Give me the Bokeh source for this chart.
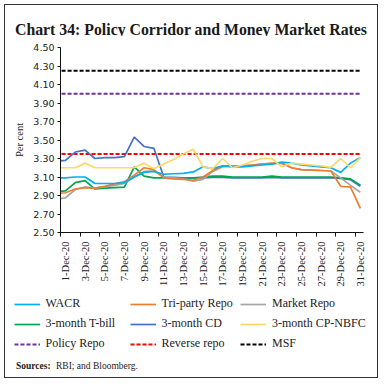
import math
from bokeh.plotting import figure
from bokeh.layouts import column
from bokeh.models import (FixedTicker, PrintfTickFormatter, Legend, LegendItem,
                          Label, Range1d)
from bokeh.embed import file_html
from bokeh.resources import INLINE

# x = day number (0 = 30-Nov-20, 1..31 = Dec 2020)
days = list(range(0, 32))
tick_days = [1, 3, 5, 7, 9, 11, 13, 15, 17, 19, 21, 23, 25, 27, 29, 31]
tick_labels = ["1-Dec-20", "3-Dec-20", "5-Dec-20", "7-Dec-20", "9-Dec-20", "11-Dec-20",
               "13-Dec-20", "15-Dec-20", "17-Dec-20", "19-Dec-20", "21-Dec-20", "23-Dec-20",
               "25-Dec-20", "27-Dec-20", "29-Dec-20", "31-Dec-20"]
y_ticks = [2.50, 2.70, 2.90, 3.10, 3.30, 3.50, 3.70, 3.90, 4.10, 4.30, 4.50]

wacr = [3.09, 3.09, 3.10, 3.10, 3.03, 3.03, 3.03, 3.04, 3.10, 3.15, 3.16, 3.13, 3.135, 3.14, 3.155, 3.21,
        3.19, 3.22, 3.21, 3.21, 3.22, 3.23, 3.24, 3.26, 3.25, 3.23, 3.22, 3.21, 3.20, 3.15, 3.25, 3.31]
tri_party = [2.92, 2.93, 2.97, 2.985, 2.98, 3.00, 3.025, 3.05, 3.12, 3.20, 3.18, 3.09, 3.08, 3.075, 3.065, 3.10,
             3.17, 3.22, 3.22, 3.22, 3.23, 3.24, 3.25, 3.25, 3.20, 3.18, 3.175, 3.17, 3.165, 3.00, 2.99, 2.76]
market_repo = [2.86, 2.875, 2.965, 2.99, 2.98, 2.995, 3.01, 3.03, 3.10, 3.16, 3.165, 3.10, 3.09, 3.08, 3.055, 3.075,
               3.16, 3.21, 3.22, 3.22, 3.23, 3.24, 3.245, 3.25, 3.20, 3.18, 3.175, 3.17, 3.165, 3.09, 3.01, 2.935]
tbill = [2.94, 2.95, 3.04, 3.06, 2.97, 2.98, 2.985, 2.99, 3.21, 3.11, 3.09, 3.09, 3.09, 3.09, 3.09, 3.10,
         3.11, 3.11, 3.10, 3.10, 3.10, 3.10, 3.11, 3.10, 3.10, 3.10, 3.10, 3.10, 3.10, 3.09, 3.08, 3.01]
cd = [3.27, 3.28, 3.37, 3.39, 3.30, 3.31, 3.31, 3.32, 3.53, 3.43, 3.41, 3.10, 3.095, 3.09, 3.09, 3.09,
      3.095, 3.095, 3.09, 3.09, 3.09, 3.09, 3.095, 3.09, 3.09, 3.09, 3.09, 3.09, 3.09, 3.085, 3.07, 3.00]
cp_nbfc = [3.20, 3.20, 3.20, 3.25, 3.20, 3.20, 3.20, 3.20, 3.20, 3.25, 3.19, 3.24, 3.29, 3.35, 3.40, 3.21,
           3.19, 3.30, 3.20, 3.23, 3.27, 3.30, 3.30, 3.21, 3.25, 3.24, 3.23, 3.22, 3.205, 3.30, 3.20, 3.31]
policy_repo = 4.00
reverse_repo = 3.35
msf = 4.25

SERIF = "Liberation Serif"
SANS = "DejaVu Sans"
TXT = "#222222"
W = 372
C_WACR, C_TP, C_MR, C_TB, C_CD, C_CP = "#00B0F0", "#ED7D31", "#A5A5A5", "#00A651", "#4472C4", "#FFD966"
C_POL, C_REV, C_MSF = "#7030A0", "#FF0000", "#000000"
DASH = "4 2"
LW = 1.7


def blank(h):
    f = figure(width=W, height=h, output_backend="svg", toolbar_location=None,
               x_range=Range1d(0, W), y_range=Range1d(h, 0),
               x_axis_location=None, y_axis_location=None, min_border=0,
               min_border_left=0, min_border_right=0, min_border_top=0, min_border_bottom=0)
    f.outline_line_color = None
    f.background_fill_color = "white"
    f.border_fill_color = "white"
    for g in f.grid:
        g.visible = False
    return f


# ---- title strip ----
top = blank(31)
top.add_layout(Label(x=9.5, y=23.5, text="Chart 34: Policy Corridor and Money Market Rates",
                     text_font=SERIF, text_font_style="bold", text_font_size="15.8px",
                     text_color="#1a1a1a", text_baseline="alphabetic", text_align="left"))

# ---- chart ----
p = figure(width=W, height=253, output_backend="svg", toolbar_location=None,
           x_range=Range1d(0.5, 31.32), y_range=Range1d(2.5, 4.5),
           min_border_left=55, min_border_right=W - 55 - 303, min_border_top=11, min_border_bottom=56)
p.outline_line_color = None
p.xgrid.grid_line_color = None
p.ygrid.grid_line_color = None
p.background_fill_color = "white"
p.border_fill_color = "white"

p.yaxis.ticker = FixedTicker(ticks=y_ticks, minor_ticks=[])
p.yaxis.formatter = PrintfTickFormatter(format="%.2f")
p.yaxis.major_label_text_font = SANS
p.yaxis.major_label_text_font_size = "9.5px"
p.yaxis.major_label_text_color = TXT
p.yaxis.major_tick_out = 3
p.yaxis.major_tick_in = 0
p.yaxis.major_label_standoff = 3
p.yaxis.axis_line_color = "#111111"
p.yaxis.major_tick_line_color = "#111111"
p.yaxis.axis_label = "Per cent"
p.yaxis.axis_label_text_font = SERIF
p.yaxis.axis_label_text_font_size = "10.5px"
p.yaxis.axis_label_text_font_style = "normal"
p.yaxis.axis_label_text_color = TXT
p.yaxis.axis_label_standoff = 5

p.xaxis.ticker = FixedTicker(ticks=tick_days, minor_ticks=[d - 0.5 for d in tick_days])
p.xaxis.major_label_overrides = {d: lab for d, lab in zip(tick_days, tick_labels)}
p.xaxis.major_label_orientation = math.pi / 2
p.xaxis.major_label_text_font = SERIF
p.xaxis.major_label_text_font_size = "10.5px"
p.xaxis.major_label_text_color = TXT
p.xaxis.major_tick_out = 0
p.xaxis.major_tick_in = 0
p.xaxis.minor_tick_out = 4
p.xaxis.minor_tick_in = 0
p.xaxis.minor_tick_line_color = "#111111"
p.xaxis.major_label_standoff = 5
p.xaxis.axis_line_color = "#111111"

p.line(days, [msf] * len(days), line_color=C_MSF, line_width=2, line_dash=DASH)
p.line(days, [policy_repo] * len(days), line_color=C_POL, line_width=2, line_dash=DASH)
p.line(days, [reverse_repo] * len(days), line_color=C_REV, line_width=2, line_dash=DASH)
p.line(days, cd, line_color=C_CD, line_width=LW)
p.line(days, tbill, line_color=C_TB, line_width=LW)
p.line(days, market_repo, line_color=C_MR, line_width=LW)
p.line(days, tri_party, line_color=C_TP, line_width=LW)
p.line(days, wacr, line_color=C_WACR, line_width=LW)
p.line(days, cp_nbfc, line_color=C_CP, line_width=LW)

# ---- legend + sources strip ----
bot = blank(88)


def swatch(ys, color, dashed=False):
    # hidden copy of the series, used only for its legend sample
    return bot.line(days, ys, line_color=color, line_width=2 if dashed else LW,
                    line_dash=DASH if dashed else "solid", visible=False)


def make_legend(items, x):
    lg = Legend(items=[LegendItem(label=t, renderers=[r]) for t, r in items],
                location=(x, 23.5), orientation="vertical",
                label_text_font=SERIF, label_text_font_size="12px", label_text_color=TXT,
                glyph_width=26, glyph_height=20, label_height=20, spacing=0,
                padding=0, margin=0, label_standoff=6,
                border_line_color=None, background_fill_alpha=0,
                inactive_fill_alpha=0)
    bot.add_layout(lg)


make_legend([("WACR", swatch(wacr, C_WACR)), ("3-month T-bill", swatch(tbill, C_TB)),
             ("Policy Repo", swatch([policy_repo] * len(days), C_POL, True))], 8.5)
make_legend([("Tri-party Repo", swatch(tri_party, C_TP)), ("3-month CD", swatch(cd, C_CD)),
             ("Reverse repo", swatch([reverse_repo] * len(days), C_REV, True))], 124.5)
make_legend([("Market Repo", swatch(market_repo, C_MR)), ("3-month CP-NBFC", swatch(cp_nbfc, C_CP)),
             ("MSF", swatch([msf] * len(days), C_MSF, True))], 235)

bot.add_layout(Label(x=10.5, y=76.5, text="Sources:", text_font=SERIF, text_font_style="bold",
                     text_font_size="9.5px", text_color=TXT, text_baseline="middle"))
bot.add_layout(Label(x=50.5, y=76.5, text="RBI; and Bloomberg.", text_font=SERIF,
                     text_font_size="9.5px", text_color=TXT, text_baseline="middle"))

layout = column(column(top), p, column(bot), spacing=0, margin=(4, 0, 0, 4),
                styles={"border": "1.5px solid #333333"})

open("out.html", "w").write(file_html(layout, INLINE))
